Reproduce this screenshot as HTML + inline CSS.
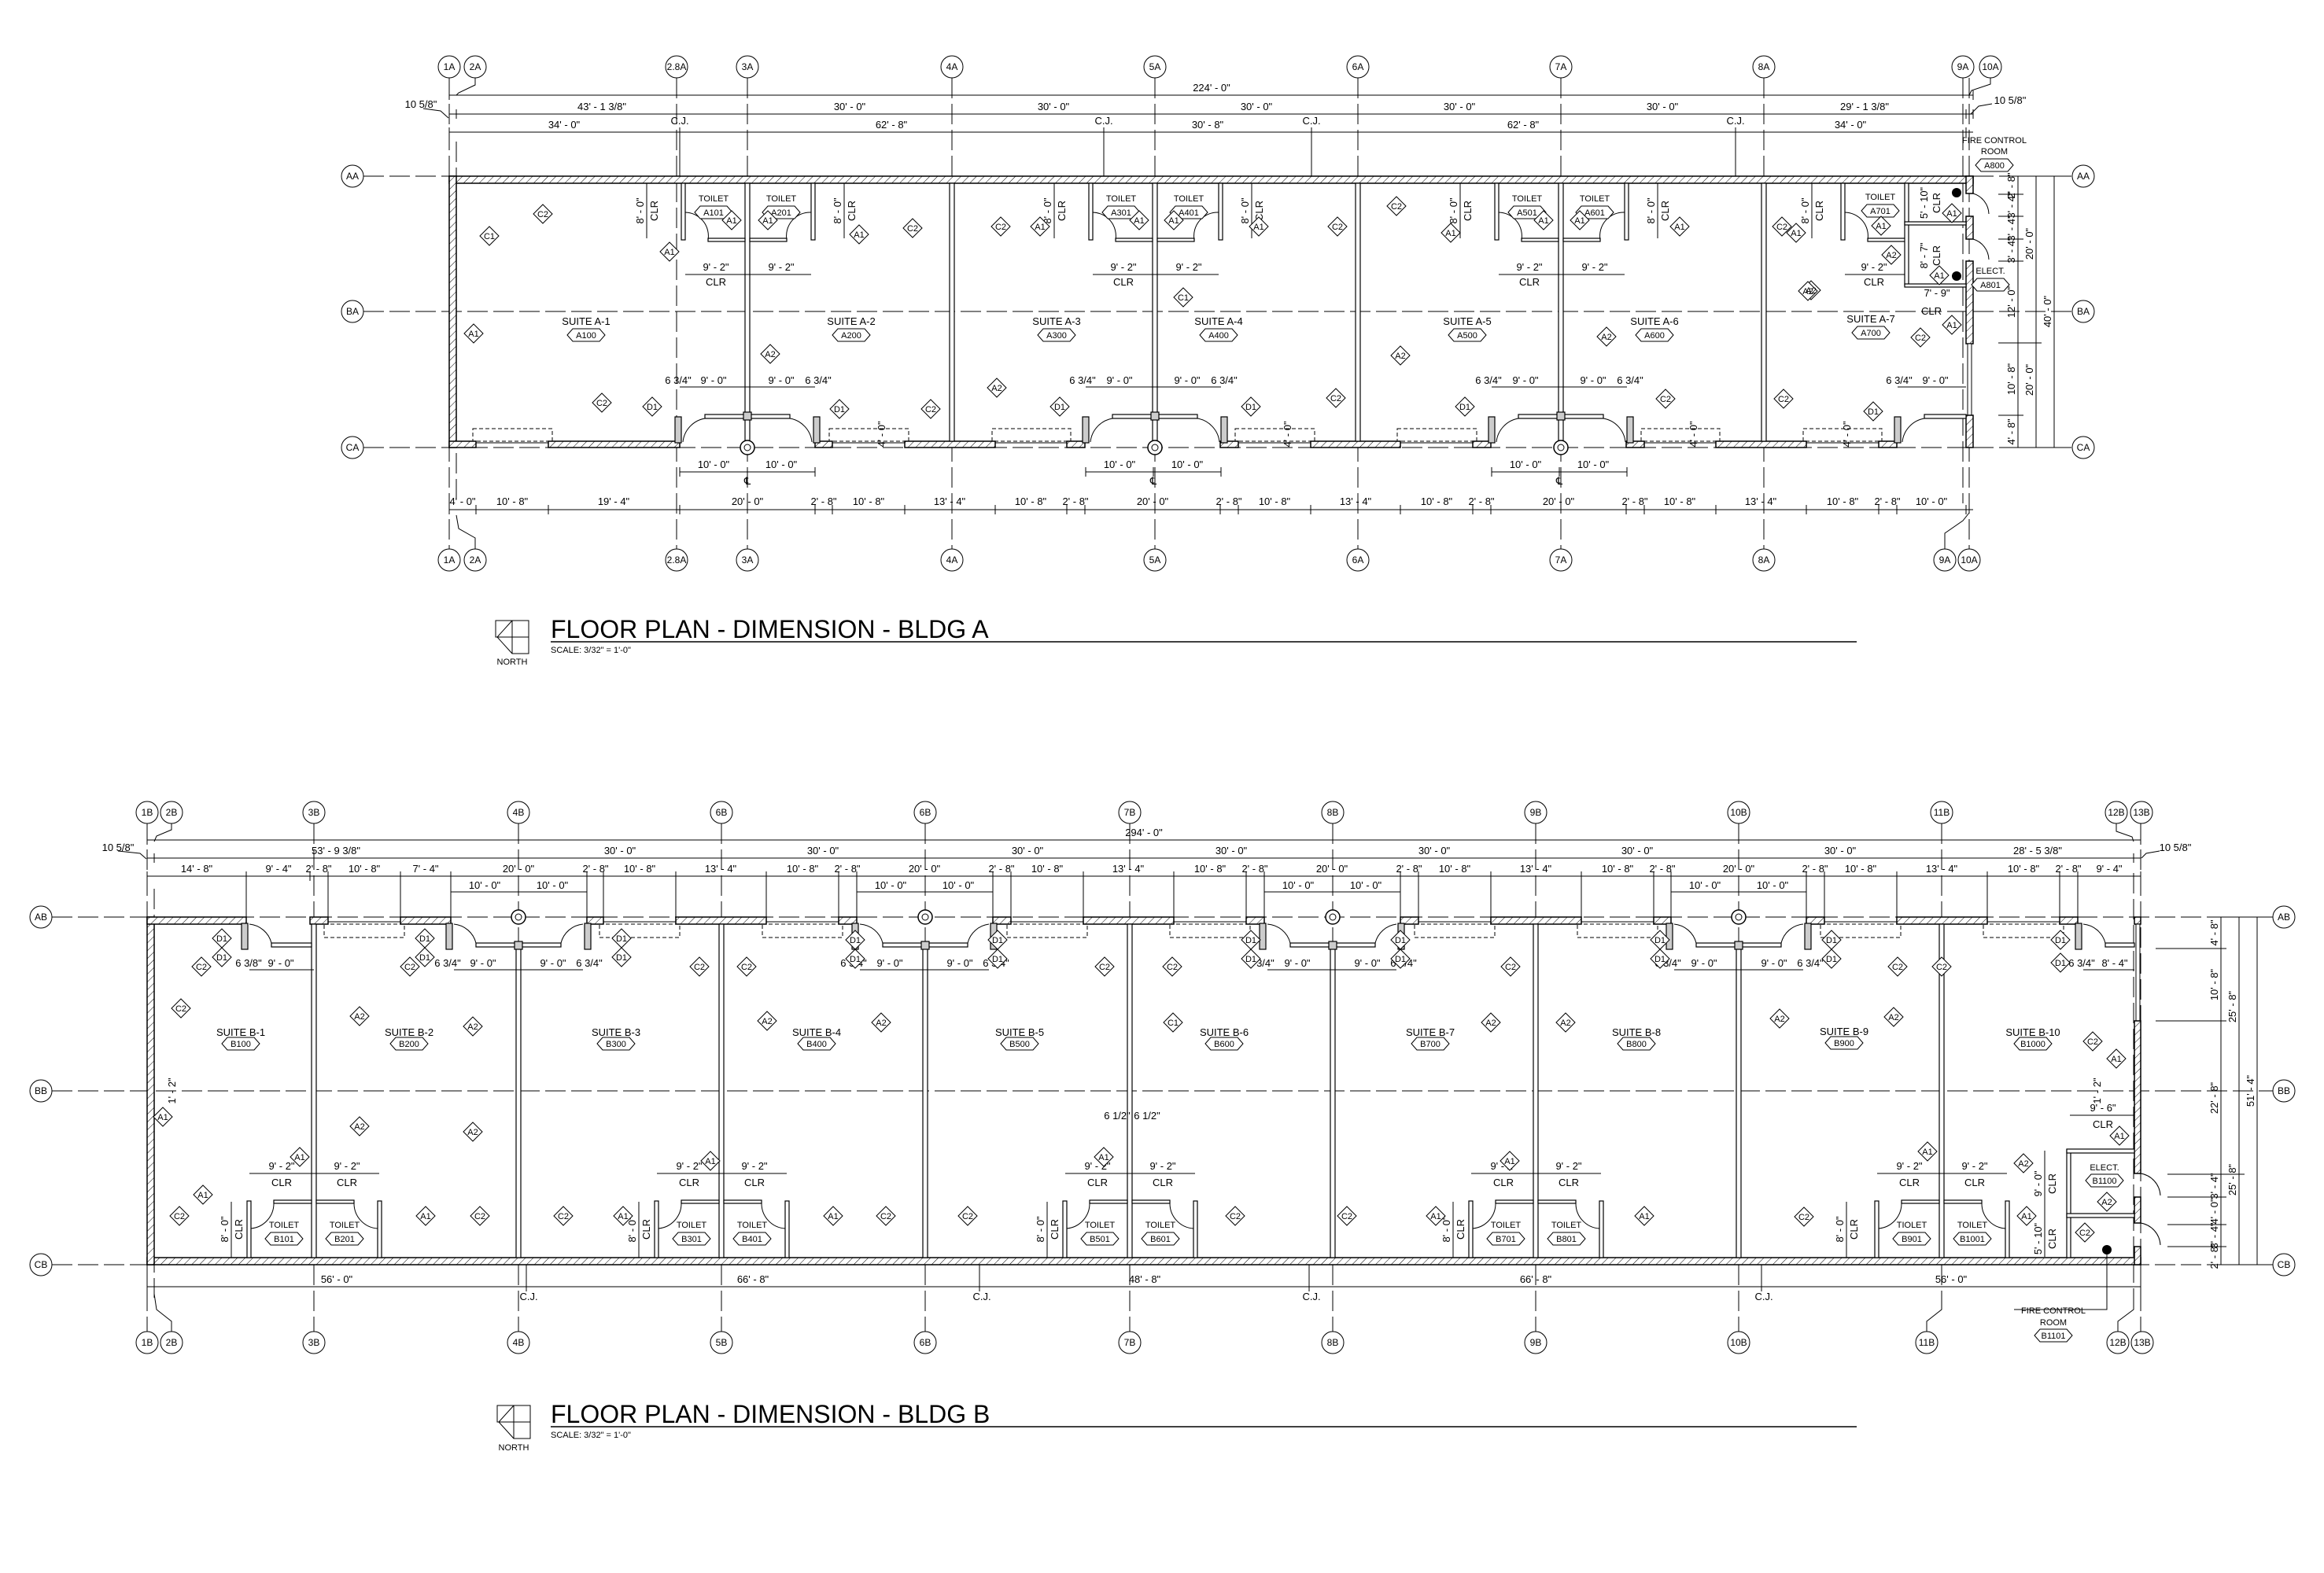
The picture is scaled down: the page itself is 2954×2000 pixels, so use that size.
<!DOCTYPE html>
<html><head><meta charset="utf-8"><style>
html,body{margin:0;padding:0;background:#fff}
svg{display:block}
text{font-family:"Liberation Sans Narrow","Liberation Sans",sans-serif;fill:#000}
.d{font-size:13px;text-anchor:middle}
.b{font-size:12px;text-anchor:middle}
.t{font-size:11px;text-anchor:middle}
.s{font-size:13px;text-anchor:middle}
.ln{stroke:#000;stroke-width:1;fill:none}
.gr{stroke:#000;stroke-width:1;fill:none;stroke-dasharray:26 7}
.w{fill:url(#h);stroke:#000;stroke-width:1.5}
.iw{fill:#ddd;stroke:#000;stroke-width:1.5}
.dash{fill:none;stroke:#000;stroke-width:1;stroke-dasharray:5 3}
</style></head><body>
<svg width="2954" height="2000" viewBox="0 0 2954 2000" xmlns="http://www.w3.org/2000/svg">
<defs>
<pattern id="h" width="7" height="7" patternUnits="userSpaceOnUse" patternTransform="rotate(45)"><rect width="7" height="7" fill="#fff"/><line x1="0" y1="0" x2="0" y2="7" stroke="#000" stroke-width="1"/></pattern>
<polygon id="dm" points="0,-12 12,0 0,12 -12,0" fill="#fff" stroke="#000" stroke-width="1"/>
<polygon id="hx" points="-24,0 -17,-8 17,-8 24,0 17,8 -17,8" fill="#fff" stroke="#000" stroke-width="1"/>
<circle id="bu" r="14" fill="#fff" stroke="#000" stroke-width="1"/>
<g id="col"><circle r="9" fill="#fff" stroke="#000" stroke-width="1.5"/><circle r="4" fill="none" stroke="#000"/></g>
</defs>

<!-- ================= BUILDING A ================= -->
<g class="gr">
<line x1="571" y1="99" x2="571" y2="698"/><line x1="580" y1="180" x2="580" y2="640"/>
<line x1="860" y1="99" x2="860" y2="698"/><line x1="950" y1="99" x2="950" y2="698"/>
<line x1="1210" y1="99" x2="1210" y2="698"/><line x1="1468" y1="99" x2="1468" y2="698"/>
<line x1="1726" y1="99" x2="1726" y2="698"/><line x1="1984" y1="99" x2="1984" y2="698"/>
<line x1="2242" y1="99" x2="2242" y2="698"/><line x1="2495" y1="99" x2="2495" y2="640"/>
<line x1="2503" y1="99" x2="2503" y2="698"/>
<line x1="462" y1="224" x2="2634" y2="224"/><line x1="462" y1="396" x2="2634" y2="396"/><line x1="462" y1="569" x2="2634" y2="569"/>
</g>
<g>
<use href="#bu" x="571" y="85"/><use href="#bu" x="604" y="85"/><use href="#bu" x="860" y="85"/><use href="#bu" x="950" y="85"/><use href="#bu" x="1210" y="85"/><use href="#bu" x="1468" y="85"/><use href="#bu" x="1726" y="85"/><use href="#bu" x="1984" y="85"/><use href="#bu" x="2242" y="85"/><use href="#bu" x="2495" y="85"/><use href="#bu" x="2530" y="85"/>
<use href="#bu" x="571" y="712"/><use href="#bu" x="604" y="712"/><use href="#bu" x="860" y="712"/><use href="#bu" x="950" y="712"/><use href="#bu" x="1210" y="712"/><use href="#bu" x="1468" y="712"/><use href="#bu" x="1726" y="712"/><use href="#bu" x="1984" y="712"/><use href="#bu" x="2242" y="712"/><use href="#bu" x="2472" y="712"/><use href="#bu" x="2503" y="712"/>
<use href="#bu" x="448" y="224"/><use href="#bu" x="448" y="396"/><use href="#bu" x="448" y="569"/>
<use href="#bu" x="2648" y="224"/><use href="#bu" x="2648" y="396"/><use href="#bu" x="2648" y="569"/>
</g>
<g class="b">
<text x="571" y="89">1A</text><text x="604" y="89">2A</text><text x="860" y="89">2.8A</text><text x="950" y="89">3A</text><text x="1210" y="89">4A</text><text x="1468" y="89">5A</text><text x="1726" y="89">6A</text><text x="1984" y="89">7A</text><text x="2242" y="89">8A</text><text x="2495" y="89">9A</text><text x="2530" y="89">10A</text>
<text x="571" y="716">1A</text><text x="604" y="716">2A</text><text x="860" y="716">2.8A</text><text x="950" y="716">3A</text><text x="1210" y="716">4A</text><text x="1468" y="716">5A</text><text x="1726" y="716">6A</text><text x="1984" y="716">7A</text><text x="2242" y="716">8A</text><text x="2472" y="716">9A</text><text x="2503" y="716">10A</text>
<text x="448" y="228">AA</text><text x="448" y="400">BA</text><text x="448" y="573">CA</text>
<text x="2648" y="228">AA</text><text x="2648" y="400">BA</text><text x="2648" y="573">CA</text>
</g>
<g class="ln">
<polyline points="604,99 604,108 583,118 580,121"/><polyline points="2530,99 2530,107 2506,115 2503,121"/>
<polyline points="604,698 604,684 583,672 580,655"/><polyline points="2472,698 2472,678 2495,662 2503,652"/>
</g>
<g class="ln">
<line x1="571" y1="121" x2="2508" y2="121"/><line x1="571" y1="115" x2="571" y2="127"/><line x1="2508" y1="115" x2="2508" y2="127"/>
<line x1="571" y1="145" x2="2508" y2="145"/>
<line x1="571" y1="139" x2="571" y2="151"/><line x1="580" y1="139" x2="580" y2="151"/><line x1="950" y1="139" x2="950" y2="151"/><line x1="1210" y1="139" x2="1210" y2="151"/><line x1="1468" y1="139" x2="1468" y2="151"/><line x1="1726" y1="139" x2="1726" y2="151"/><line x1="1984" y1="139" x2="1984" y2="151"/><line x1="2242" y1="139" x2="2242" y2="151"/><line x1="2499" y1="139" x2="2499" y2="151"/><line x1="2508" y1="139" x2="2508" y2="151"/>
<line x1="571" y1="168" x2="2508" y2="168"/>
<line x1="571" y1="162" x2="571" y2="174"/><line x1="864" y1="162" x2="864" y2="224"/><line x1="1403" y1="162" x2="1403" y2="224"/><line x1="1667" y1="162" x2="1667" y2="224"/><line x1="2206" y1="162" x2="2206" y2="224"/><line x1="2499" y1="162" x2="2499" y2="174"/>
<polyline points="538,138 560,141 570,150"/><polyline points="2532,132 2515,135 2505,145"/>
</g>
<g class="d">
<text x="1540" y="116">224' - 0"</text>
<text x="535" y="137">10 5/8"</text><text x="2555" y="132">10 5/8"</text>
<text x="765" y="140">43' - 1 3/8"</text><text x="1080" y="140">30' - 0"</text><text x="1339" y="140">30' - 0"</text><text x="1597" y="140">30' - 0"</text><text x="1855" y="140">30' - 0"</text><text x="2113" y="140">30' - 0"</text><text x="2370" y="140">29' - 1 3/8"</text>
<text x="717" y="163">34' - 0"</text><text x="1133" y="163">62' - 8"</text><text x="1535" y="163">30' - 8"</text><text x="1936" y="163">62' - 8"</text><text x="2352" y="163">34' - 0"</text>
<text x="864" y="158">C.J.</text><text x="1403" y="158">C.J.</text><text x="1667" y="158">C.J.</text><text x="2206" y="158">C.J.</text>
</g>
<rect class="w" x="571" y="224" width="1937" height="9"/>
<rect class="w" x="571" y="224" width="9" height="345"/>
<rect class="w" x="2499" y="224" width="9" height="22"/>
<rect class="w" x="2499" y="275" width="9" height="29"/>
<rect class="w" x="2499" y="332" width="9" height="105"/>
<rect x="2501" y="437" width="5" height="91" fill="#fff" stroke="#000"/>
<rect class="w" x="2499" y="528" width="9" height="41"/>
<g>
<rect class="w" x="571" y="561" width="34" height="8"/><rect class="w" x="697" y="561" width="167" height="8"/><rect class="w" x="1036" y="561" width="22" height="8"/><rect class="w" x="1150" y="561" width="115" height="8"/><rect class="w" x="1356" y="561" width="23" height="8"/><rect class="w" x="1551" y="561" width="23" height="8"/><rect class="w" x="1666" y="561" width="114" height="8"/><rect class="w" x="1872" y="561" width="23" height="8"/><rect class="w" x="2067" y="561" width="23" height="8"/><rect class="w" x="2181" y="561" width="115" height="8"/><rect class="w" x="2388" y="561" width="23" height="8"/>
</g>
<g class="ln">
<line x1="605" y1="563" x2="697" y2="563"/><line x1="1058" y1="563" x2="1150" y2="563"/><line x1="1265" y1="563" x2="1356" y2="563"/><line x1="1574" y1="563" x2="1666" y2="563"/><line x1="1780" y1="563" x2="1872" y2="563"/><line x1="2090" y1="563" x2="2181" y2="563"/><line x1="2296" y1="563" x2="2388" y2="563"/>
</g>
<g class="dash">
<rect x="601" y="545" width="101" height="16"/><rect x="1054" y="545" width="101" height="16"/><rect x="1261" y="545" width="100" height="16"/><rect x="1570" y="545" width="101" height="16"/><rect x="1776" y="545" width="101" height="16"/><rect x="2086" y="545" width="100" height="16"/><rect x="2292" y="545" width="100" height="16"/>
</g>
<g fill="#fff" stroke="#000" stroke-width="1.2">
<rect x="947" y="233" width="6" height="328"/><rect x="1207" y="233" width="6" height="328"/><rect x="1465" y="233" width="6" height="328"/><rect x="1723" y="233" width="6" height="328"/><rect x="1981" y="233" width="6" height="328"/><rect x="2239" y="233" width="6" height="328"/>
</g>
<g fill="#fff" stroke="#000" stroke-width="1.2">
<rect x="866" y="233" width="5" height="72"/><rect x="1031" y="233" width="5" height="72"/><rect x="900" y="303" width="47" height="4"/><rect x="953" y="303" width="47" height="4"/>
<rect x="1384" y="233" width="5" height="72"/><rect x="1549" y="233" width="5" height="72"/><rect x="1418" y="303" width="47" height="4"/><rect x="1471" y="303" width="47" height="4"/>
<rect x="1900" y="233" width="5" height="72"/><rect x="2065" y="233" width="5" height="72"/><rect x="1934" y="303" width="47" height="4"/><rect x="1987" y="303" width="47" height="4"/>
<rect x="2340" y="233" width="5" height="72"/><rect x="2374" y="303" width="49" height="4"/>
<rect x="2421" y="233" width="5" height="130"/><rect x="2421" y="282" width="78" height="4"/><rect x="2421" y="361" width="78" height="4"/>
</g>
<g class="ln">
<path d="M871,270 A30,30 0 0 1 900,305"/><path d="M1031,270 A30,30 0 0 0 1000,305"/>
<path d="M1389,270 A30,30 0 0 1 1418,305"/><path d="M1549,270 A30,30 0 0 0 1518,305"/>
<path d="M1905,270 A30,30 0 0 1 1934,305"/><path d="M2065,270 A30,30 0 0 0 2034,305"/>
<path d="M2345,270 A30,30 0 0 1 2374,305"/>
<path d="M2508,246 A28,28 0 0 1 2528,272"/><path d="M2508,304 A28,28 0 0 1 2528,330"/>
</g>
<circle cx="2487" cy="245" r="6"/><circle cx="2487" cy="351" r="6"/>
<g fill="#ccc" stroke="#000" stroke-width="1.2">
<rect x="858" y="530" width="8" height="33"/><rect x="1034" y="530" width="8" height="33"/>
<rect x="1376" y="530" width="8" height="33"/><rect x="1552" y="530" width="8" height="33"/>
<rect x="1892" y="530" width="8" height="33"/><rect x="2068" y="530" width="8" height="33"/>
<rect x="2408" y="530" width="8" height="33"/>
</g>
<g fill="#fff" stroke="#000" stroke-width="1.2">
<rect x="896" y="527" width="108" height="5"/><rect x="1414" y="527" width="108" height="5"/><rect x="1930" y="527" width="108" height="5"/><rect x="2446" y="527" width="53" height="5"/>
<rect x="945" y="524" width="10" height="10" fill="#ccc"/><rect x="1463" y="524" width="10" height="10" fill="#ccc"/><rect x="1979" y="524" width="10" height="10" fill="#ccc"/>
</g>
<g class="ln">
<path d="M896,532 A34,34 0 0 0 868,562"/><path d="M1004,532 A34,34 0 0 1 1032,562"/>
<path d="M1414,532 A34,34 0 0 0 1386,562"/><path d="M1522,532 A34,34 0 0 1 1550,562"/>
<path d="M1930,532 A34,34 0 0 0 1902,562"/><path d="M2038,532 A34,34 0 0 1 2066,562"/>
<path d="M2446,532 A34,34 0 0 0 2418,562"/>
</g>
<use href="#col" x="950" y="569"/><use href="#col" x="1468" y="569"/><use href="#col" x="1984" y="569"/>
<g class="ln">
<line x1="871" y1="349" x2="1031" y2="349"/><line x1="1389" y1="349" x2="1549" y2="349"/><line x1="1905" y1="349" x2="2065" y2="349"/><line x1="2345" y1="349" x2="2421" y2="349"/>
<line x1="864" y1="492" x2="1036" y2="492"/><line x1="1380" y1="492" x2="1552" y2="492"/><line x1="1896" y1="492" x2="2068" y2="492"/><line x1="2412" y1="492" x2="2499" y2="492"/>
<line x1="864" y1="600" x2="1036" y2="600"/><line x1="1380" y1="600" x2="1552" y2="600"/><line x1="1896" y1="600" x2="2068" y2="600"/>
<line x1="864" y1="594" x2="864" y2="606"/><line x1="950" y1="594" x2="950" y2="606"/><line x1="1036" y1="594" x2="1036" y2="606"/>
<line x1="1380" y1="594" x2="1380" y2="606"/><line x1="1466" y1="594" x2="1466" y2="606"/><line x1="1552" y1="594" x2="1552" y2="606"/>
<line x1="1896" y1="594" x2="1896" y2="606"/><line x1="1982" y1="594" x2="1982" y2="606"/><line x1="2068" y1="594" x2="2068" y2="606"/>
<line x1="822" y1="233" x2="822" y2="303"/><line x1="1073" y1="233" x2="1073" y2="303"/><line x1="1340" y1="233" x2="1340" y2="303"/><line x1="1591" y1="233" x2="1591" y2="303"/><line x1="1856" y1="233" x2="1856" y2="303"/><line x1="2107" y1="233" x2="2107" y2="303"/><line x1="2303" y1="233" x2="2303" y2="303"/>
</g>
<g class="d">
<text x="910" y="344">9' - 2"</text><text x="993" y="344">9' - 2"</text><text x="910" y="363">CLR</text>
<text x="1428" y="344">9' - 2"</text><text x="1511" y="344">9' - 2"</text><text x="1428" y="363">CLR</text>
<text x="1944" y="344">9' - 2"</text><text x="2027" y="344">9' - 2"</text><text x="1944" y="363">CLR</text>
<text x="2382" y="344">9' - 2"</text><text x="2382" y="363">CLR</text><text x="2462" y="377">7' - 9"</text><text x="2455" y="400">CLR</text>
<text x="862" y="488">6 3/4"</text><text x="907" y="488">9' - 0"</text><text x="993" y="488">9' - 0"</text><text x="1040" y="488">6 3/4"</text>
<text x="1376" y="488">6 3/4"</text><text x="1423" y="488">9' - 0"</text><text x="1509" y="488">9' - 0"</text><text x="1556" y="488">6 3/4"</text>
<text x="1892" y="488">6 3/4"</text><text x="1939" y="488">9' - 0"</text><text x="2025" y="488">9' - 0"</text><text x="2072" y="488">6 3/4"</text>
<text x="2414" y="488">6 3/4"</text><text x="2460" y="488">9' - 0"</text>
<text x="907" y="595">10' - 0"</text><text x="993" y="595">10' - 0"</text><text x="950" y="616">℄</text>
<text x="1423" y="595">10' - 0"</text><text x="1509" y="595">10' - 0"</text><text x="1466" y="616">℄</text>
<text x="1939" y="595">10' - 0"</text><text x="2025" y="595">10' - 0"</text><text x="1982" y="616">℄</text>
</g>
<g class="d">
<text transform="translate(818,268) rotate(-90)">8' - 0"</text><text transform="translate(836,268) rotate(-90)">CLR</text>
<text transform="translate(1069,268) rotate(-90)">8' - 0"</text><text transform="translate(1087,268) rotate(-90)">CLR</text>
<text transform="translate(1336,268) rotate(-90)">8' - 0"</text><text transform="translate(1354,268) rotate(-90)">CLR</text>
<text transform="translate(1587,268) rotate(-90)">8' - 0"</text><text transform="translate(1605,268) rotate(-90)">CLR</text>
<text transform="translate(1852,268) rotate(-90)">8' - 0"</text><text transform="translate(1870,268) rotate(-90)">CLR</text>
<text transform="translate(2103,268) rotate(-90)">8' - 0"</text><text transform="translate(2121,268) rotate(-90)">CLR</text>
<text transform="translate(2299,268) rotate(-90)">8' - 0"</text><text transform="translate(2317,268) rotate(-90)">CLR</text>
<text transform="translate(2450,258) rotate(-90)">5' - 10"</text><text transform="translate(2466,258) rotate(-90)">CLR</text>
<text transform="translate(2450,325) rotate(-90)">8' - 7"</text><text transform="translate(2466,325) rotate(-90)">CLR</text>
<text transform="translate(1125,552) rotate(-90)">4' - 0"</text><text transform="translate(1641,552) rotate(-90)">4' - 0"</text><text transform="translate(2157,552) rotate(-90)">4' - 0"</text><text transform="translate(2352,552) rotate(-90)">4' - 0"</text>
</g>
<g class="t">
<text x="907" y="256">TOILET</text><text x="993" y="256">TOILET</text><text x="1425" y="256">TOILET</text><text x="1511" y="256">TOILET</text><text x="1941" y="256">TOILET</text><text x="2027" y="256">TOILET</text><text x="2390" y="254">TOILET</text>
<text x="2535" y="182">FIRE CONTROL</text><text x="2535" y="196">ROOM</text><text x="2530" y="348">ELECT.</text>
</g>
<g>
<use href="#hx" x="907" y="270"/><use href="#hx" x="993" y="270"/><use href="#hx" x="1425" y="270"/><use href="#hx" x="1511" y="270"/><use href="#hx" x="1941" y="270"/><use href="#hx" x="2027" y="270"/><use href="#hx" x="2390" y="268"/><use href="#hx" x="2535" y="210"/><use href="#hx" x="2530" y="362"/>
<use href="#hx" x="745" y="426"/><use href="#hx" x="1082" y="426"/><use href="#hx" x="1343" y="426"/><use href="#hx" x="1549" y="426"/><use href="#hx" x="1865" y="426"/><use href="#hx" x="2103" y="426"/><use href="#hx" x="2378" y="423"/>
</g>
<g class="t">
<text x="907" y="274">A101</text><text x="993" y="274">A201</text><text x="1425" y="274">A301</text><text x="1511" y="274">A401</text><text x="1941" y="274">A501</text><text x="2027" y="274">A601</text><text x="2390" y="272">A701</text><text x="2535" y="214">A800</text><text x="2530" y="366">A801</text>
<text x="745" y="430">A100</text><text x="1082" y="430">A200</text><text x="1343" y="430">A300</text><text x="1549" y="430">A400</text><text x="1865" y="430">A500</text><text x="2103" y="430">A600</text><text x="2378" y="427">A700</text>
</g>
<g class="s">
<text x="745" y="413">SUITE A-1</text><text x="1082" y="413">SUITE A-2</text><text x="1343" y="413">SUITE A-3</text><text x="1549" y="413">SUITE A-4</text><text x="1865" y="413">SUITE A-5</text><text x="2103" y="413">SUITE A-6</text><text x="2378" y="410">SUITE A-7</text>
</g>
<g>
<use href="#dm" x="690" y="272"/><use href="#dm" x="622" y="300"/><use href="#dm" x="602" y="424"/><use href="#dm" x="765" y="512"/><use href="#dm" x="829" y="517"/><use href="#dm" x="851" y="320"/><use href="#dm" x="930" y="280"/><use href="#dm" x="976" y="280"/><use href="#dm" x="1092" y="298"/><use href="#dm" x="1160" y="290"/><use href="#dm" x="979" y="450"/><use href="#dm" x="1067" y="520"/><use href="#dm" x="1183" y="520"/><use href="#dm" x="1267" y="493"/><use href="#dm" x="1272" y="288"/><use href="#dm" x="1322" y="288"/><use href="#dm" x="1347" y="517"/><use href="#dm" x="1448" y="280"/><use href="#dm" x="1492" y="280"/><use href="#dm" x="1504" y="378"/><use href="#dm" x="1600" y="288"/><use href="#dm" x="1590" y="517"/><use href="#dm" x="1700" y="288"/><use href="#dm" x="1698" y="506"/><use href="#dm" x="1775" y="262"/><use href="#dm" x="1844" y="296"/><use href="#dm" x="1780" y="452"/><use href="#dm" x="1862" y="517"/><use href="#dm" x="1962" y="280"/><use href="#dm" x="2008" y="280"/><use href="#dm" x="2042" y="428"/><use href="#dm" x="2135" y="288"/><use href="#dm" x="2117" y="507"/><use href="#dm" x="2267" y="507"/><use href="#dm" x="2265" y="288"/><use href="#dm" x="2283" y="296"/><use href="#dm" x="2302" y="369"/><use href="#dm" x="2391" y="287"/><use href="#dm" x="2404" y="324"/><use href="#dm" x="2481" y="271"/><use href="#dm" x="2465" y="350"/><use href="#dm" x="2481" y="413"/><use href="#dm" x="2441" y="429"/><use href="#dm" x="2298" y="370"/><use href="#dm" x="2381" y="523"/>
</g>
<g class="t">
<text x="690" y="276">C2</text><text x="622" y="304">C1</text><text x="602" y="428">A1</text><text x="765" y="516">C2</text><text x="829" y="521">D1</text><text x="851" y="324">A1</text><text x="930" y="284">A1</text><text x="976" y="284">A1</text><text x="1092" y="302">A1</text><text x="1160" y="294">C2</text><text x="979" y="454">A2</text><text x="1067" y="524">D1</text><text x="1183" y="524">C2</text><text x="1267" y="497">A2</text><text x="1272" y="292">C2</text><text x="1322" y="292">A1</text><text x="1347" y="521">D1</text><text x="1448" y="284">A1</text><text x="1492" y="284">A1</text><text x="1504" y="382">C1</text><text x="1600" y="292">A1</text><text x="1590" y="521">D1</text><text x="1700" y="292">C2</text><text x="1698" y="510">C2</text><text x="1775" y="266">C2</text><text x="1844" y="300">A1</text><text x="1780" y="456">A2</text><text x="1862" y="521">D1</text><text x="1962" y="284">A1</text><text x="2008" y="284">A1</text><text x="2042" y="432">A2</text><text x="2135" y="292">A1</text><text x="2117" y="511">C2</text><text x="2267" y="511">C2</text><text x="2265" y="292">C2</text><text x="2283" y="300">A1</text><text x="2302" y="373">A2</text><text x="2391" y="291">A1</text><text x="2404" y="328">A2</text><text x="2481" y="275">A1</text><text x="2465" y="354">A1</text><text x="2481" y="417">A1</text><text x="2441" y="433">C2</text><text x="2298" y="374">A2</text><text x="2381" y="527">D1</text>
</g>
<g class="ln">
<line x1="2565" y1="224" x2="2565" y2="569"/><line x1="2588" y1="224" x2="2588" y2="569"/><line x1="2611" y1="224" x2="2611" y2="569"/>
<line x1="2558" y1="224" x2="2618" y2="224"/><line x1="2540" y1="247" x2="2572" y2="247"/><line x1="2540" y1="275" x2="2572" y2="275"/><line x1="2540" y1="304" x2="2572" y2="304"/><line x1="2540" y1="332" x2="2572" y2="332"/><line x1="2540" y1="436" x2="2595" y2="436"/><line x1="2540" y1="528" x2="2572" y2="528"/><line x1="2558" y1="569" x2="2618" y2="569"/><line x1="2581" y1="396" x2="2595" y2="396"/>
</g>
<g class="d">
<text transform="translate(2561,236) rotate(-90)">2' - 8"</text><text transform="translate(2561,261) rotate(-90)">3' - 4"</text><text transform="translate(2561,290) rotate(-90)">3' - 4"</text><text transform="translate(2561,318) rotate(-90)">3' - 4"</text><text transform="translate(2561,384) rotate(-90)">12' - 0"</text><text transform="translate(2561,482) rotate(-90)">10' - 8"</text><text transform="translate(2561,549) rotate(-90)">4' - 8"</text>
<text transform="translate(2584,310) rotate(-90)">20' - 0"</text><text transform="translate(2584,483) rotate(-90)">20' - 0"</text><text transform="translate(2607,396) rotate(-90)">40' - 0"</text>
</g>
<g class="ln">
<line x1="571" y1="648" x2="2508" y2="648"/>
<path d="M571,642v12M605,642v12M697,642v12M864,642v12M1036,642v12M1058,642v12M1150,642v12M1265,642v12M1356,642v12M1379,642v12M1551,642v12M1574,642v12M1666,642v12M1780,642v12M1872,642v12M1895,642v12M2067,642v12M2090,642v12M2181,642v12M2296,642v12M2388,642v12M2411,642v12M2499,642v12"/>
</g>
<g class="d">
<text x="588" y="642">4' - 0"</text><text x="651" y="642">10' - 8"</text><text x="780" y="642">19' - 4"</text><text x="950" y="642">20' - 0"</text><text x="1047" y="642">2' - 8"</text><text x="1104" y="642">10' - 8"</text><text x="1207" y="642">13' - 4"</text><text x="1310" y="642">10' - 8"</text><text x="1367" y="642">2' - 8"</text><text x="1465" y="642">20' - 0"</text><text x="1562" y="642">2' - 8"</text><text x="1620" y="642">10' - 8"</text><text x="1723" y="642">13' - 4"</text><text x="1826" y="642">10' - 8"</text><text x="1883" y="642">2' - 8"</text><text x="1981" y="642">20' - 0"</text><text x="2078" y="642">2' - 8"</text><text x="2135" y="642">10' - 8"</text><text x="2238" y="642">13' - 4"</text><text x="2342" y="642">10' - 8"</text><text x="2399" y="642">2' - 8"</text><text x="2455" y="642">10' - 0"</text>
</g>
<g class="ln" stroke-width="1.2"><rect x="630" y="789" width="21" height="21"/><rect x="651" y="789" width="21" height="21"/><rect x="651" y="810" width="21" height="21"/><polyline points="651,789 632,810 651,831"/></g>
<text x="651" y="845" style="font-size:11px;text-anchor:middle;font-family:'Liberation Sans',sans-serif">NORTH</text>
<text x="700" y="811" style="font-size:32px;font-family:'Liberation Sans',sans-serif">FLOOR PLAN - DIMENSION - BLDG A</text>
<line x1="700" y1="816" x2="2360" y2="816" stroke="#000" stroke-width="1.5"/>
<text x="700" y="830" style="font-size:11px">SCALE:  3/32" = 1'-0"</text>

<!-- ================= BUILDING B ================= -->
<g class="gr">
<line x1="187" y1="1047" x2="187" y2="1693"/><line x1="196" y1="1130" x2="196" y2="1650"/>
<line x1="399" y1="1047" x2="399" y2="1693"/><line x1="659" y1="1047" x2="659" y2="1693"/><line x1="917" y1="1047" x2="917" y2="1693"/><line x1="1176" y1="1047" x2="1176" y2="1693"/><line x1="1436" y1="1047" x2="1436" y2="1693"/><line x1="1694" y1="1047" x2="1694" y2="1693"/><line x1="1952" y1="1047" x2="1952" y2="1693"/><line x1="2210" y1="1047" x2="2210" y2="1693"/><line x1="2468" y1="1047" x2="2468" y2="1650"/><line x1="2712" y1="1110" x2="2712" y2="1650"/><line x1="2721" y1="1047" x2="2721" y2="1693"/>
<line x1="66" y1="1166" x2="2889" y2="1166"/><line x1="66" y1="1387" x2="2889" y2="1387"/><line x1="66" y1="1608" x2="2889" y2="1608"/>
</g>
<g>
<use href="#bu" x="187" y="1033"/><use href="#bu" x="218" y="1033"/><use href="#bu" x="399" y="1033"/><use href="#bu" x="659" y="1033"/><use href="#bu" x="917" y="1033"/><use href="#bu" x="1176" y="1033"/><use href="#bu" x="1436" y="1033"/><use href="#bu" x="1694" y="1033"/><use href="#bu" x="1952" y="1033"/><use href="#bu" x="2210" y="1033"/><use href="#bu" x="2468" y="1033"/><use href="#bu" x="2690" y="1033"/><use href="#bu" x="2722" y="1033"/>
<use href="#bu" x="187" y="1707"/><use href="#bu" x="218" y="1707"/><use href="#bu" x="399" y="1707"/><use href="#bu" x="659" y="1707"/><use href="#bu" x="917" y="1707"/><use href="#bu" x="1176" y="1707"/><use href="#bu" x="1436" y="1707"/><use href="#bu" x="1694" y="1707"/><use href="#bu" x="1952" y="1707"/><use href="#bu" x="2210" y="1707"/><use href="#bu" x="2449" y="1707"/><use href="#bu" x="2692" y="1707"/><use href="#bu" x="2723" y="1707"/>
<use href="#bu" x="52" y="1166"/><use href="#bu" x="52" y="1387"/><use href="#bu" x="52" y="1608"/>
<use href="#bu" x="2903" y="1166"/><use href="#bu" x="2903" y="1387"/><use href="#bu" x="2903" y="1608"/>
</g>
<g class="b">
<text x="187" y="1037">1B</text><text x="218" y="1037">2B</text><text x="399" y="1037">3B</text><text x="659" y="1037">4B</text><text x="917" y="1037">6B</text><text x="1176" y="1037">6B</text><text x="1436" y="1037">7B</text><text x="1694" y="1037">8B</text><text x="1952" y="1037">9B</text><text x="2210" y="1037">10B</text><text x="2468" y="1037">11B</text><text x="2690" y="1037">12B</text><text x="2722" y="1037">13B</text>
<text x="187" y="1711">1B</text><text x="218" y="1711">2B</text><text x="399" y="1711">3B</text><text x="659" y="1711">4B</text><text x="917" y="1711">5B</text><text x="1176" y="1711">6B</text><text x="1436" y="1711">7B</text><text x="1694" y="1711">8B</text><text x="1952" y="1711">9B</text><text x="2210" y="1711">10B</text><text x="2449" y="1711">11B</text><text x="2692" y="1711">12B</text><text x="2723" y="1711">13B</text>
<text x="52" y="1170">AB</text><text x="52" y="1391">BB</text><text x="52" y="1612">CB</text>
<text x="2903" y="1170">AB</text><text x="2903" y="1391">BB</text><text x="2903" y="1612">CB</text>
</g>
<g class="ln">
<polyline points="218,1047 218,1055 199,1063 196,1070"/><polyline points="2690,1047 2690,1057 2710,1064 2712,1070"/>
<polyline points="218,1693 218,1680 199,1665 196,1645"/><polyline points="2449,1693 2449,1680 2468,1665 2468,1645"/><polyline points="2692,1693 2692,1680 2712,1665 2712,1645"/>
</g>
<g class="ln">
<line x1="187" y1="1068" x2="2721" y2="1068"/><path d="M187,1062v12M2721,1062v12"/>
<line x1="187" y1="1091" x2="2721" y2="1091"/><path d="M187,1085v12M196,1085v12M659,1085v12M917,1085v12M1176,1085v12M1436,1085v12M1694,1085v12M1952,1085v12M2210,1085v12M2468,1085v12M2712,1085v12M2721,1085v12"/>
<line x1="187" y1="1114" x2="2721" y2="1114"/>
<path d="M187,1108v12M313,1108v58M394,1108v12M417,1108v58M509,1108v58M573,1108v58M746,1108v58M767,1108v58M859,1108v58M974,1108v58M1066,1108v58M1089,1108v58M1262,1108v58M1285,1108v58M1377,1108v58M1492,1108v58M1584,1108v58M1607,1108v58M1780,1108v58M1803,1108v58M1895,1108v58M2010,1108v58M2102,1108v58M2124,1108v58M2296,1108v58M2319,1108v58M2411,1108v58M2526,1108v58M2618,1108v58M2641,1108v58M2721,1108v12"/>
<line x1="573" y1="1134" x2="746" y2="1134"/><line x1="1089" y1="1134" x2="1262" y2="1134"/><line x1="1607" y1="1134" x2="1780" y2="1134"/><line x1="2124" y1="1134" x2="2296" y2="1134"/>
<polyline points="150,1082 178,1085 186,1092"/><polyline points="2745,1082 2728,1085 2722,1091"/>
</g>
<g class="d">
<text x="1454" y="1063">294' - 0"</text><text x="150" y="1082">10 5/8"</text><text x="2765" y="1082">10 5/8"</text>
<text x="427" y="1086">53' - 9 3/8"</text><text x="788" y="1086">30' - 0"</text><text x="1046" y="1086">30' - 0"</text><text x="1306" y="1086">30' - 0"</text><text x="1565" y="1086">30' - 0"</text><text x="1823" y="1086">30' - 0"</text><text x="2081" y="1086">30' - 0"</text><text x="2339" y="1086">30' - 0"</text><text x="2590" y="1086">28' - 5 3/8"</text>
<text x="250" y="1109">14' - 8"</text><text x="354" y="1109">9' - 4"</text><text x="405" y="1109">2' - 8"</text><text x="463" y="1109">10' - 8"</text><text x="541" y="1109">7' - 4"</text><text x="659" y="1109">20' - 0"</text><text x="757" y="1109">2' - 8"</text><text x="813" y="1109">10' - 8"</text><text x="916" y="1109">13' - 4"</text><text x="1020" y="1109">10' - 8"</text><text x="1077" y="1109">2' - 8"</text><text x="1175" y="1109">20' - 0"</text><text x="1273" y="1109">2' - 8"</text><text x="1331" y="1109">10' - 8"</text><text x="1434" y="1109">13' - 4"</text><text x="1538" y="1109">10' - 8"</text><text x="1595" y="1109">2' - 8"</text><text x="1693" y="1109">20' - 0"</text><text x="1791" y="1109">2' - 8"</text><text x="1849" y="1109">10' - 8"</text><text x="1952" y="1109">13' - 4"</text><text x="2056" y="1109">10' - 8"</text><text x="2113" y="1109">2' - 8"</text><text x="2210" y="1109">20' - 0"</text><text x="2307" y="1109">2' - 8"</text><text x="2365" y="1109">10' - 8"</text><text x="2468" y="1109">13' - 4"</text><text x="2572" y="1109">10' - 8"</text><text x="2629" y="1109">2' - 8"</text><text x="2681" y="1109">9' - 4"</text>
<text x="616" y="1130">10' - 0"</text><text x="702" y="1130">10' - 0"</text><text x="1132" y="1130">10' - 0"</text><text x="1218" y="1130">10' - 0"</text><text x="1650" y="1130">10' - 0"</text><text x="1736" y="1130">10' - 0"</text><text x="2167" y="1130">10' - 0"</text><text x="2253" y="1130">10' - 0"</text>
</g>
<rect class="w" x="187" y="1599" width="2534" height="9"/>
<rect class="w" x="187" y="1166" width="9" height="442"/>
<g>
<rect class="w" x="187" y="1166" width="126" height="9"/><rect class="w" x="394" y="1166" width="23" height="9"/><rect class="w" x="509" y="1166" width="64" height="9"/><rect class="w" x="746" y="1166" width="21" height="9"/><rect class="w" x="859" y="1166" width="115" height="9"/><rect class="w" x="1066" y="1166" width="23" height="9"/><rect class="w" x="1262" y="1166" width="23" height="9"/><rect class="w" x="1377" y="1166" width="115" height="9"/><rect class="w" x="1584" y="1166" width="23" height="9"/><rect class="w" x="1780" y="1166" width="23" height="9"/><rect class="w" x="1895" y="1166" width="115" height="9"/><rect class="w" x="2102" y="1166" width="22" height="9"/><rect class="w" x="2296" y="1166" width="23" height="9"/><rect class="w" x="2411" y="1166" width="115" height="9"/><rect class="w" x="2618" y="1166" width="23" height="9"/><rect class="w" x="2713" y="1166" width="8" height="9"/>
</g>
<g class="ln">
<line x1="417" y1="1172" x2="509" y2="1172"/><line x1="767" y1="1172" x2="859" y2="1172"/><line x1="974" y1="1172" x2="1066" y2="1172"/><line x1="1285" y1="1172" x2="1377" y2="1172"/><line x1="1492" y1="1172" x2="1584" y2="1172"/><line x1="1803" y1="1172" x2="1895" y2="1172"/><line x1="2010" y1="1172" x2="2102" y2="1172"/><line x1="2319" y1="1172" x2="2411" y2="1172"/><line x1="2526" y1="1172" x2="2618" y2="1172"/>
</g>
<g class="dash">
<rect x="412" y="1175" width="102" height="17"/><rect x="762" y="1175" width="102" height="17"/><rect x="969" y="1175" width="102" height="17"/><rect x="1280" y="1175" width="102" height="17"/><rect x="1487" y="1175" width="102" height="17"/><rect x="1798" y="1175" width="102" height="17"/><rect x="2005" y="1175" width="102" height="17"/><rect x="2314" y="1175" width="102" height="17"/><rect x="2521" y="1175" width="102" height="17"/>
</g>
<rect x="2715" y="1175" width="5" height="123" fill="#fff" stroke="#000"/>
<rect class="w" x="2713" y="1298" width="8" height="194"/>
<rect class="w" x="2713" y="1522" width="8" height="33"/>
<rect class="w" x="2713" y="1585" width="8" height="23"/>
<g class="ln"><path d="M2721,1492 A30,30 0 0 1 2746,1520"/><path d="M2721,1555 A30,30 0 0 1 2746,1583"/></g>
<g fill="#fff" stroke="#000" stroke-width="1.2">
<rect x="396" y="1175" width="6" height="424"/><rect x="656" y="1200" width="6" height="399"/><rect x="914" y="1175" width="6" height="424"/><rect x="1173" y="1200" width="6" height="399"/><rect x="1433" y="1175" width="6" height="424"/><rect x="1691" y="1200" width="6" height="399"/><rect x="1949" y="1175" width="6" height="424"/><rect x="2207" y="1200" width="6" height="399"/><rect x="2465" y="1175" width="6" height="424"/>
</g>
<g fill="#ccc" stroke="#000" stroke-width="1.2">
<rect x="307" y="1174" width="8" height="33"/><rect x="567" y="1174" width="8" height="33"/><rect x="743" y="1174" width="8" height="33"/><rect x="1083" y="1174" width="8" height="33"/><rect x="1259" y="1174" width="8" height="33"/><rect x="1601" y="1174" width="8" height="33"/><rect x="1777" y="1174" width="8" height="33"/><rect x="2118" y="1174" width="8" height="33"/><rect x="2294" y="1174" width="8" height="33"/><rect x="2638" y="1174" width="8" height="33"/>
</g>
<g fill="#fff" stroke="#000" stroke-width="1.2">
<rect x="345" y="1199" width="51" height="5"/><rect x="605" y="1199" width="108" height="5"/><rect x="1122" y="1199" width="108" height="5"/><rect x="1640" y="1199" width="108" height="5"/><rect x="2156" y="1199" width="108" height="5"/><rect x="2676" y="1199" width="37" height="5"/>
<rect x="654" y="1197" width="10" height="10" fill="#ccc"/><rect x="1171" y="1197" width="10" height="10" fill="#ccc"/><rect x="1689" y="1197" width="10" height="10" fill="#ccc"/><rect x="2205" y="1197" width="10" height="10" fill="#ccc"/>
</g>
<g class="ln">
<path d="M345,1199 A32,32 0 0 0 317,1175"/><path d="M605,1199 A32,32 0 0 0 577,1175"/><path d="M713,1199 A32,32 0 0 1 741,1175"/><path d="M1122,1199 A32,32 0 0 0 1093,1175"/><path d="M1230,1199 A32,32 0 0 1 1257,1175"/><path d="M1640,1199 A32,32 0 0 0 1611,1175"/><path d="M1748,1199 A32,32 0 0 1 1775,1175"/><path d="M2156,1199 A32,32 0 0 0 2128,1175"/><path d="M2264,1199 A32,32 0 0 1 2292,1175"/><path d="M2676,1199 A32,32 0 0 0 2648,1175"/>
</g>
<use href="#col" x="659" y="1166"/><use href="#col" x="1176" y="1166"/><use href="#col" x="1694" y="1166"/><use href="#col" x="2210" y="1166"/>
<g fill="#fff" stroke="#000" stroke-width="1.2">
<rect x="314" y="1527" width="5" height="72"/><rect x="480" y="1527" width="5" height="72"/><rect x="348" y="1526" width="48" height="4"/><rect x="402" y="1526" width="48" height="4"/>
<rect x="832" y="1527" width="5" height="72"/><rect x="998" y="1527" width="5" height="72"/><rect x="866" y="1526" width="48" height="4"/><rect x="920" y="1526" width="48" height="4"/>
<rect x="1351" y="1527" width="5" height="72"/><rect x="1517" y="1527" width="5" height="72"/><rect x="1385" y="1526" width="48" height="4"/><rect x="1439" y="1526" width="48" height="4"/>
<rect x="1867" y="1527" width="5" height="72"/><rect x="2033" y="1527" width="5" height="72"/><rect x="1901" y="1526" width="48" height="4"/><rect x="1955" y="1526" width="48" height="4"/>
<rect x="2383" y="1527" width="5" height="72"/><rect x="2549" y="1527" width="5" height="72"/><rect x="2417" y="1526" width="48" height="4"/><rect x="2471" y="1526" width="48" height="4"/>
<rect x="2627" y="1462" width="5" height="137"/><rect x="2627" y="1461" width="86" height="5"/><rect x="2627" y="1543" width="86" height="5"/>
</g>
<g class="ln">
<path d="M319,1562 A32,32 0 0 0 348,1530"/><path d="M480,1562 A32,32 0 0 1 450,1530"/>
<path d="M837,1562 A32,32 0 0 0 866,1530"/><path d="M998,1562 A32,32 0 0 1 968,1530"/>
<path d="M1356,1562 A32,32 0 0 0 1385,1530"/><path d="M1517,1562 A32,32 0 0 1 1487,1530"/>
<path d="M1872,1562 A32,32 0 0 0 1901,1530"/><path d="M2033,1562 A32,32 0 0 1 2003,1530"/>
<path d="M2388,1562 A32,32 0 0 0 2417,1530"/><path d="M2549,1562 A32,32 0 0 1 2519,1530"/>
</g>
<circle cx="2678" cy="1589" r="6"/>
<g class="ln">
<line x1="317" y1="1233" x2="399" y2="1233"/><line x1="577" y1="1233" x2="741" y2="1233"/><line x1="1093" y1="1233" x2="1257" y2="1233"/><line x1="1611" y1="1233" x2="1775" y2="1233"/><line x1="2128" y1="1233" x2="2292" y2="1233"/><line x1="2648" y1="1233" x2="2713" y2="1233"/>
<line x1="317" y1="1492" x2="482" y2="1492"/><line x1="835" y1="1492" x2="1000" y2="1492"/><line x1="1354" y1="1492" x2="1519" y2="1492"/><line x1="1870" y1="1492" x2="2035" y2="1492"/><line x1="2386" y1="1492" x2="2551" y2="1492"/>
<line x1="294" y1="1528" x2="294" y2="1599"/><line x1="812" y1="1528" x2="812" y2="1599"/><line x1="1331" y1="1528" x2="1331" y2="1599"/><line x1="1847" y1="1528" x2="1847" y2="1599"/><line x1="2347" y1="1528" x2="2347" y2="1599"/>
<line x1="2599" y1="1463" x2="2599" y2="1598"/><line x1="2631" y1="1418" x2="2713" y2="1418"/>
</g>
<g class="d">
<text x="316" y="1229">6 3/8"</text><text x="357" y="1229">9' - 0"</text>
<text x="569" y="1229">6 3/4"</text><text x="614" y="1229">9' - 0"</text><text x="703" y="1229">9' - 0"</text><text x="749" y="1229">6 3/4"</text>
<text x="1085" y="1229">6 3/4"</text><text x="1131" y="1229">9' - 0"</text><text x="1220" y="1229">9' - 0"</text><text x="1266" y="1229">6 3/4"</text>
<text x="1603" y="1229">6 3/4"</text><text x="1649" y="1229">9' - 0"</text><text x="1738" y="1229">9' - 0"</text><text x="1784" y="1229">6 3/4"</text>
<text x="2120" y="1229">6 3/4"</text><text x="2166" y="1229">9' - 0"</text><text x="2255" y="1229">9' - 0"</text><text x="2301" y="1229">6 3/4"</text>
<text x="2646" y="1229">6 3/4"</text><text x="2688" y="1229">8' - 4"</text>
<text x="358" y="1487">9' - 2"</text><text x="441" y="1487">9' - 2"</text><text x="358" y="1508">CLR</text><text x="441" y="1508">CLR</text>
<text x="876" y="1487">9' - 2"</text><text x="959" y="1487">9' - 2"</text><text x="876" y="1508">CLR</text><text x="959" y="1508">CLR</text>
<text x="1395" y="1487">9' - 2"</text><text x="1478" y="1487">9' - 2"</text><text x="1395" y="1508">CLR</text><text x="1478" y="1508">CLR</text>
<text x="1911" y="1487">9' - 2"</text><text x="1994" y="1487">9' - 2"</text><text x="1911" y="1508">CLR</text><text x="1994" y="1508">CLR</text>
<text x="2427" y="1487">9' - 2"</text><text x="2510" y="1487">9' - 2"</text><text x="2427" y="1508">CLR</text><text x="2510" y="1508">CLR</text>
<text x="2673" y="1413">9' - 6"</text><text x="2673" y="1434">CLR</text>
<text x="1420" y="1423">6 1/2"</text><text x="1458" y="1423">6 1/2"</text>
</g>
<g class="d">
<text transform="translate(290,1563) rotate(-90)">8' - 0"</text><text transform="translate(308,1563) rotate(-90)">CLR</text>
<text transform="translate(808,1563) rotate(-90)">8' - 0"</text><text transform="translate(826,1563) rotate(-90)">CLR</text>
<text transform="translate(1327,1563) rotate(-90)">8' - 0"</text><text transform="translate(1345,1563) rotate(-90)">CLR</text>
<text transform="translate(1843,1563) rotate(-90)">8' - 0"</text><text transform="translate(1861,1563) rotate(-90)">CLR</text>
<text transform="translate(2343,1563) rotate(-90)">8' - 0"</text><text transform="translate(2361,1563) rotate(-90)">CLR</text>
<text transform="translate(2595,1505) rotate(-90)">9' - 0"</text><text transform="translate(2613,1505) rotate(-90)">CLR</text>
<text transform="translate(2595,1575) rotate(-90)">5' - 10"</text><text transform="translate(2613,1575) rotate(-90)">CLR</text>
<text transform="translate(223,1387) rotate(-90)">1' - 2"</text><text transform="translate(2670,1387) rotate(-90)">1' - 2"</text>
</g>
<g class="t">
<text x="361" y="1561">TOILET</text><text x="438" y="1561">TOILET</text><text x="879" y="1561">TOILET</text><text x="956" y="1561">TOILET</text><text x="1398" y="1561">TOILET</text><text x="1475" y="1561">TOILET</text><text x="1914" y="1561">TOILET</text><text x="1991" y="1561">TOILET</text><text x="2430" y="1561">TIOLET</text><text x="2507" y="1561">TOILET</text>
<text x="2675" y="1488">ELECT.</text><text x="2610" y="1670">FIRE CONTROL</text><text x="2610" y="1685">ROOM</text>
</g>
<g>
<use href="#hx" x="361" y="1575"/><use href="#hx" x="438" y="1575"/><use href="#hx" x="879" y="1575"/><use href="#hx" x="956" y="1575"/><use href="#hx" x="1398" y="1575"/><use href="#hx" x="1475" y="1575"/><use href="#hx" x="1914" y="1575"/><use href="#hx" x="1991" y="1575"/><use href="#hx" x="2430" y="1575"/><use href="#hx" x="2507" y="1575"/><use href="#hx" x="2675" y="1501"/><use href="#hx" x="2610" y="1698"/>
<use href="#hx" x="306" y="1327"/><use href="#hx" x="520" y="1327"/><use href="#hx" x="783" y="1327"/><use href="#hx" x="1038" y="1327"/><use href="#hx" x="1296" y="1327"/><use href="#hx" x="1556" y="1327"/><use href="#hx" x="1818" y="1327"/><use href="#hx" x="2080" y="1327"/><use href="#hx" x="2344" y="1326"/><use href="#hx" x="2584" y="1327"/>
</g>
<g class="t">
<text x="361" y="1579">B101</text><text x="438" y="1579">B201</text><text x="879" y="1579">B301</text><text x="956" y="1579">B401</text><text x="1398" y="1579">B501</text><text x="1475" y="1579">B601</text><text x="1914" y="1579">B701</text><text x="1991" y="1579">B801</text><text x="2430" y="1579">B901</text><text x="2507" y="1579">B1001</text><text x="2675" y="1505">B1100</text><text x="2610" y="1702">B1101</text>
<text x="306" y="1331">B100</text><text x="520" y="1331">B200</text><text x="783" y="1331">B300</text><text x="1038" y="1331">B400</text><text x="1296" y="1331">B500</text><text x="1556" y="1331">B600</text><text x="1818" y="1331">B700</text><text x="2080" y="1331">B800</text><text x="2344" y="1330">B900</text><text x="2584" y="1331">B1000</text>
</g>
<g class="s">
<text x="306" y="1317">SUITE B-1</text><text x="520" y="1317">SUITE B-2</text><text x="783" y="1317">SUITE B-3</text><text x="1038" y="1317">SUITE B-4</text><text x="1296" y="1317">SUITE B-5</text><text x="1556" y="1317">SUITE B-6</text><text x="1818" y="1317">SUITE B-7</text><text x="2080" y="1317">SUITE B-8</text><text x="2344" y="1316">SUITE B-9</text><text x="2584" y="1317">SUITE B-10</text>
</g>
<g>
<use href="#dm" x="282" y="1193"/><use href="#dm" x="282" y="1217"/><use href="#dm" x="256" y="1229"/><use href="#dm" x="230" y="1282"/><use href="#dm" x="207" y="1420"/><use href="#dm" x="381" y="1471"/><use href="#dm" x="258" y="1519"/><use href="#dm" x="228" y="1546"/><use href="#dm" x="541" y="1546"/><use href="#dm" x="457" y="1292"/><use href="#dm" x="457" y="1432"/><use href="#dm" x="540" y="1193"/><use href="#dm" x="540" y="1217"/><use href="#dm" x="521" y="1229"/><use href="#dm" x="601" y="1305"/><use href="#dm" x="601" y="1439"/><use href="#dm" x="610" y="1546"/><use href="#dm" x="790" y="1193"/><use href="#dm" x="790" y="1217"/><use href="#dm" x="889" y="1229"/><use href="#dm" x="716" y="1546"/><use href="#dm" x="949" y="1229"/><use href="#dm" x="975" y="1298"/><use href="#dm" x="903" y="1476"/><use href="#dm" x="792" y="1546"/><use href="#dm" x="1059" y="1546"/><use href="#dm" x="1087" y="1195"/><use href="#dm" x="1087" y="1219"/><use href="#dm" x="1120" y="1300"/><use href="#dm" x="1268" y="1195"/><use href="#dm" x="1268" y="1219"/><use href="#dm" x="1126" y="1546"/><use href="#dm" x="1230" y="1546"/><use href="#dm" x="1404" y="1229"/><use href="#dm" x="1491" y="1300"/><use href="#dm" x="1490" y="1229"/><use href="#dm" x="1590" y="1195"/><use href="#dm" x="1590" y="1219"/><use href="#dm" x="1403" y="1471"/><use href="#dm" x="1570" y="1546"/><use href="#dm" x="1712" y="1546"/><use href="#dm" x="1780" y="1195"/><use href="#dm" x="1780" y="1219"/><use href="#dm" x="1895" y="1300"/><use href="#dm" x="1920" y="1229"/><use href="#dm" x="1919" y="1476"/><use href="#dm" x="1825" y="1546"/><use href="#dm" x="2090" y="1546"/><use href="#dm" x="2110" y="1195"/><use href="#dm" x="2110" y="1219"/><use href="#dm" x="1990" y="1300"/><use href="#dm" x="2328" y="1195"/><use href="#dm" x="2328" y="1219"/><use href="#dm" x="2262" y="1295"/><use href="#dm" x="2293" y="1547"/><use href="#dm" x="2450" y="1464"/><use href="#dm" x="2412" y="1229"/><use href="#dm" x="2468" y="1229"/><use href="#dm" x="2407" y="1293"/><use href="#dm" x="2619" y="1195"/><use href="#dm" x="2619" y="1224"/><use href="#dm" x="2660" y="1324"/><use href="#dm" x="2690" y="1346"/><use href="#dm" x="2694" y="1444"/><use href="#dm" x="2572" y="1479"/><use href="#dm" x="2678" y="1528"/><use href="#dm" x="2650" y="1567"/><use href="#dm" x="2576" y="1546"/>
</g>
<g class="t">
<text x="282" y="1197">D1</text><text x="282" y="1221">D1</text><text x="256" y="1233">C2</text><text x="230" y="1286">C2</text><text x="207" y="1424">A1</text><text x="381" y="1475">A1</text><text x="258" y="1523">A1</text><text x="228" y="1550">C2</text><text x="541" y="1550">A1</text><text x="457" y="1296">A2</text><text x="457" y="1436">A2</text><text x="540" y="1197">D1</text><text x="540" y="1221">D1</text><text x="521" y="1233">C2</text><text x="601" y="1309">A2</text><text x="601" y="1443">A2</text><text x="610" y="1550">C2</text><text x="790" y="1197">D1</text><text x="790" y="1221">D1</text><text x="889" y="1233">C2</text><text x="716" y="1550">C2</text><text x="949" y="1233">C2</text><text x="975" y="1302">A2</text><text x="903" y="1480">A1</text><text x="792" y="1550">A1</text><text x="1059" y="1550">A1</text><text x="1087" y="1199">D1</text><text x="1087" y="1223">D1</text><text x="1120" y="1304">A2</text><text x="1268" y="1199">D1</text><text x="1268" y="1223">D1</text><text x="1126" y="1550">C2</text><text x="1230" y="1550">C2</text><text x="1404" y="1233">C2</text><text x="1491" y="1304">C1</text><text x="1490" y="1233">C2</text><text x="1590" y="1199">D1</text><text x="1590" y="1223">D1</text><text x="1403" y="1475">A1</text><text x="1570" y="1550">C2</text><text x="1712" y="1550">C2</text><text x="1780" y="1199">D1</text><text x="1780" y="1223">D1</text><text x="1895" y="1304">A2</text><text x="1920" y="1233">C2</text><text x="1919" y="1480">A1</text><text x="1825" y="1550">A1</text><text x="2090" y="1550">A1</text><text x="2110" y="1199">D1</text><text x="2110" y="1223">D1</text><text x="1990" y="1304">A2</text><text x="2328" y="1199">D1</text><text x="2328" y="1223">D1</text><text x="2262" y="1299">A2</text><text x="2293" y="1551">C2</text><text x="2450" y="1468">A1</text><text x="2412" y="1233">C2</text><text x="2468" y="1233">C2</text><text x="2407" y="1297">A2</text><text x="2619" y="1199">D1</text><text x="2619" y="1228">D1</text><text x="2660" y="1328">C2</text><text x="2690" y="1350">A1</text><text x="2694" y="1448">A1</text><text x="2572" y="1483">A2</text><text x="2678" y="1532">A2</text><text x="2650" y="1571">C2</text><text x="2576" y="1550">A1</text>
</g>
<g class="ln">
<line x1="2823" y1="1166" x2="2823" y2="1608"/><line x1="2846" y1="1166" x2="2846" y2="1608"/><line x1="2869" y1="1166" x2="2869" y2="1608"/>
<line x1="2815" y1="1166" x2="2876" y2="1166"/><line x1="2740" y1="1206" x2="2830" y2="1206"/><line x1="2740" y1="1298" x2="2830" y2="1298"/><line x1="2755" y1="1493" x2="2853" y2="1493"/><line x1="2755" y1="1522" x2="2830" y2="1522"/><line x1="2755" y1="1557" x2="2830" y2="1557"/><line x1="2755" y1="1585" x2="2830" y2="1585"/><line x1="2815" y1="1608" x2="2876" y2="1608"/>
</g>
<g class="d">
<text transform="translate(2819,1186) rotate(-90)">4' - 8"</text><text transform="translate(2819,1252) rotate(-90)">10' - 8"</text><text transform="translate(2819,1396) rotate(-90)">22' - 8"</text><text transform="translate(2819,1508) rotate(-90)">3' - 4"</text><text transform="translate(2819,1540) rotate(-90)">4' - 0"</text><text transform="translate(2819,1571) rotate(-90)">3' - 4"</text><text transform="translate(2819,1597) rotate(-90)">2' - 8"</text>
<text transform="translate(2842,1280) rotate(-90)">25' - 8"</text><text transform="translate(2842,1500) rotate(-90)">25' - 8"</text><text transform="translate(2865,1387) rotate(-90)">51' - 4"</text>
</g>
<g class="ln">
<line x1="187" y1="1636" x2="2721" y2="1636"/>
<path d="M187,1630v12M669,1608v34M1245,1608v34M1664,1608v34M2239,1608v34M2721,1630v12"/>
<polyline points="2560,1665 2590,1665 2678,1665 2678,1592"/>
</g>
<g class="d">
<text x="428" y="1631">56' - 0"</text><text x="957" y="1631">66' - 8"</text><text x="1455" y="1631">48' - 8"</text><text x="1952" y="1631">66' - 8"</text><text x="2480" y="1631">56' - 0"</text>
<text x="672" y="1653">C.J.</text><text x="1248" y="1653">C.J.</text><text x="1667" y="1653">C.J.</text><text x="2242" y="1653">C.J.</text>
</g>
<g class="ln" stroke-width="1.2"><rect x="632" y="1787" width="21" height="21"/><rect x="653" y="1787" width="21" height="21"/><rect x="653" y="1808" width="21" height="21"/><polyline points="653,1787 634,1808 653,1829"/></g>
<text x="653" y="1844" style="font-size:11px;text-anchor:middle;font-family:'Liberation Sans',sans-serif">NORTH</text>
<text x="700" y="1809" style="font-size:32px;font-family:'Liberation Sans',sans-serif">FLOOR PLAN - DIMENSION - BLDG B</text>
<line x1="700" y1="1814" x2="2360" y2="1814" stroke="#000" stroke-width="1.5"/>
<text x="700" y="1828" style="font-size:11px">SCALE:  3/32" = 1'-0"</text>
</svg>
</body></html>
